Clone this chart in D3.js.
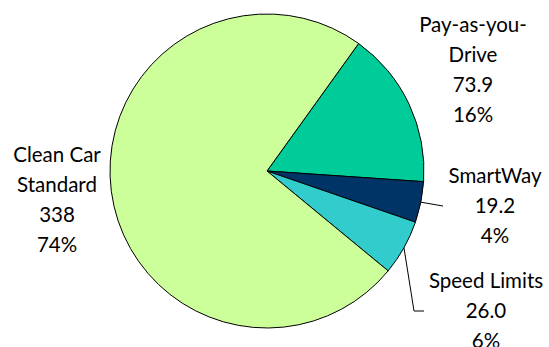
<!DOCTYPE html>
<html>
<head>
<meta charset="utf-8">
<script src="https://cdn.jsdelivr.net/npm/d3@7/dist/d3.min.js"></script>
<style>
  html, body { margin: 0; padding: 0; background: #ffffff; }
  svg { display: block; }
  text { font-family: Lato, "Open Sans", sans-serif; fill: #000; }
</style>
</head>
<body>
<svg id="chart" width="549" height="347"></svg>
<script>
// Emission reductions by measure
const categories = ["Pay-as-you-Drive", "SmartWay", "Speed Limits", "Clean Car Standard"];
const values = [73.9, 19.2, 26.0, 338];
const decimals = [1, 1, 1, 0];
const nameLines = [["Pay-as-you-", "Drive"], ["SmartWay"], ["Speed Limits"], ["Clean Car", "Standard"]];
const colors = ["#00CC99", "#003366", "#33CCCC", "#CCFF99"];

const W = 549, H = 347;
const cx = 267, cy = 171, radius = 157;
const firstSliceDeg = 35.7;
const lineGap = 30;
const fontSize = 20.5;

// label anchor: centre x and baseline of the first line
const labelPos = [
  { x: 473, y: 32 },
  { x: 495, y: 183 },
  { x: 486, y: 288 },
  { x: 57,  y: 162 }
];

const svg = d3.select("#chart");
svg.append("rect").attr("width", W).attr("height", H).attr("fill", "#fff");

const total = d3.sum(values);
const start = firstSliceDeg * Math.PI / 180;
const pie = d3.pie().sort(null).value(d => d)
  .startAngle(start).endAngle(start + 2 * Math.PI);
const arcs = pie(values);
const arc = d3.arc().innerRadius(0).outerRadius(radius);

const g = svg.append("g").attr("transform", `translate(${cx},${cy})`);
g.selectAll("path").data(arcs).join("path")
  .attr("d", arc)
  .attr("fill", (d, i) => colors[i])
  .attr("stroke", "#000")
  .attr("stroke-width", 1);

// labels
arcs.forEach((d, i) => {
  const lines = nameLines[i].concat([
    values[i].toFixed(decimals[i]),
    Math.round(values[i] / total * 100) + "%"
  ]);
  const t = svg.append("text")
    .attr("text-anchor", "middle")
    .attr("font-size", fontSize);
  lines.forEach((s, k) => {
    t.append("tspan").attr("x", labelPos[i].x).attr("y", labelPos[i].y + k * lineGap).text(s);
  });
});

// leader lines for the two small slices
function edgePoint(d) {
  const a = (d.startAngle + d.endAngle) / 2;
  return [cx + radius * Math.sin(a), cy - radius * Math.cos(a)];
}
const sw = edgePoint(arcs[1]);
svg.append("path")
  .attr("d", d3.line()([sw, [443, 206]]))
  .attr("fill", "none").attr("stroke", "#000").attr("stroke-width", 1);
const sl = edgePoint(arcs[2]);
svg.append("path")
  .attr("d", d3.line()([sl, [414, 311], [424, 311]]))
  .attr("fill", "none").attr("stroke", "#000").attr("stroke-width", 1);
</script>
</body>
</html>
